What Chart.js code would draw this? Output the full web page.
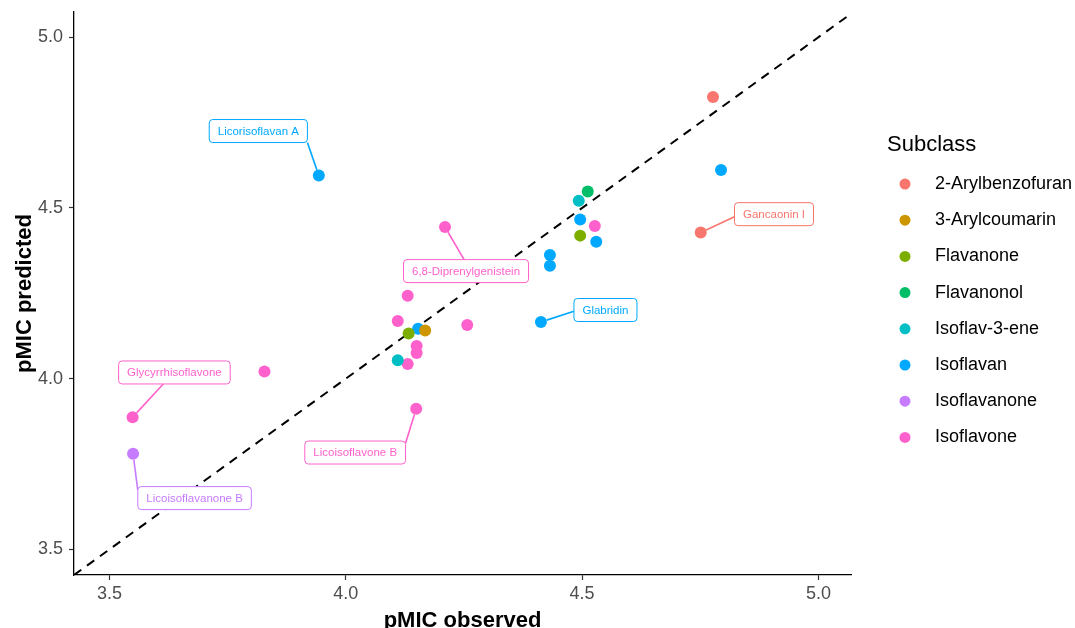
<!DOCTYPE html>
<html>
<head>
<meta charset="utf-8">
<script src="https://cdn.jsdelivr.net/npm/chart.js@4.4.1/dist/chart.umd.min.js"></script>
<style>
  html, body { margin: 0; padding: 0; background: #fff; }
  #wrap { width: 1075px; height: 628px; }
</style>
</head>
<body>
<div id="wrap"><canvas id="chart" width="1075" height="628"></canvas></div>
<script>
const FONT = '"Liberation Sans", Arial, Helvetica, sans-serif';

const subclasses = ['2-Arylbenzofuran', '3-Arylcoumarin', 'Flavanone', 'Flavanonol',
  'Isoflav-3-ene', 'Isoflavan', 'Isoflavanone', 'Isoflavone'];
const subclassColors = ['#F8766D', '#CD9600', '#7CAE00', '#00BE67',
  '#00BFC4', '#00A9FF', '#C77CFF', '#FF61CC'];

// one entry per compound
const compoundSubclass = [
  '2-Arylbenzofuran', '2-Arylbenzofuran',
  '3-Arylcoumarin',
  'Flavanone', 'Flavanone',
  'Flavanonol',
  'Isoflav-3-ene', 'Isoflav-3-ene',
  'Isoflavan', 'Isoflavan', 'Isoflavan', 'Isoflavan', 'Isoflavan', 'Isoflavan', 'Isoflavan', 'Isoflavan',
  'Isoflavanone',
  'Isoflavone', 'Isoflavone', 'Isoflavone', 'Isoflavone', 'Isoflavone', 'Isoflavone',
  'Isoflavone', 'Isoflavone', 'Isoflavone', 'Isoflavone', 'Isoflavone'
];
const pmicObserved = [
  4.777, 4.751,
  4.168,
  4.133, 4.496,
  4.512,
  4.493, 4.110,
  3.943, 4.794, 4.496, 4.530, 4.432, 4.432, 4.413, 4.153,
  3.550,
  4.210, 4.527, 4.131, 4.110, 4.257, 4.150, 4.150, 4.131, 3.828, 3.549, 4.149
];
const pmicPredicted = [
  4.825, 4.428,
  4.141,
  4.132, 4.419,
  4.548,
  4.521, 4.054,
  4.595, 4.611, 4.466, 4.401, 4.362, 4.331, 4.166, 4.146,
  3.780,
  4.444, 4.447, 4.243, 4.169, 4.157, 4.096, 4.075, 4.043, 4.021, 3.887, 3.912
];
const compoundLabel = [
  '', 'Gancaonin I',
  '',
  '', '',
  '',
  '', '',
  'Licorisoflavan A', '', '', '', '', '', 'Glabridin', '',
  'Licoisoflavanone B',
  '6,8-Diprenylgenistein', '', '', '', '', '', '', '', '', 'Glycyrrhisoflavone', 'Licoisoflavone B'
];

const tickValues = [3.5, 4.0, 4.5, 5.0];
const xLimits = [3.425, 5.069];
const yLimits = [3.425, 5.074];

// where each repelled label box sits relative to its point (px) and where the segment meets the box
const labelPlacement = [
  { name: 'Licorisoflavan A', dx: -60.5, dy: -44.5, ax: 1, ay: 1 },
  { name: '6,8-Diprenylgenistein', dx: 21, dy: 44, ax: -0.03, ay: -1 },
  { name: 'Gancaonin I', dx: 73.3, dy: -18.4, ax: -1, ay: 0.23 },
  { name: 'Glabridin', dx: 64.5, dy: -12, ax: -1, ay: 0.1 },
  { name: 'Glycyrrhisoflavone', dx: 41.8, dy: -44.8, ax: -0.2, ay: 1 },
  { name: 'Licoisoflavone B', dx: -61, dy: 43.8, ax: 1, ay: -0.8 },
  { name: 'Licoisoflavanone B', dx: 61.5, dy: 44.3, ax: -1, ay: -0.67 }
];

const datasets = subclasses.map((s, k) => ({
  type: 'scatter',
  label: s,
  data: pmicObserved
    .map((x, i) => ({ x: x, y: pmicPredicted[i], s: compoundSubclass[i] }))
    .filter(p => p.s === s),
  backgroundColor: subclassColors[k],
  borderWidth: 0,
  pointRadius: 6,
  pointHoverRadius: 6
}));

datasets.push({
  type: 'line',
  label: 'identity',
  data: [{ x: xLimits[0], y: xLimits[0] }, { x: xLimits[1], y: xLimits[1] }],
  borderColor: '#000',
  borderWidth: 2,
  borderDash: [9, 7],
  pointRadius: 0,
  fill: false
});

function roundBox(ctx, x, y, w, h, r) {
  ctx.beginPath();
  ctx.moveTo(x + r, y);
  ctx.lineTo(x + w - r, y);
  ctx.arcTo(x + w, y, x + w, y + r, r);
  ctx.lineTo(x + w, y + h - r);
  ctx.arcTo(x + w, y + h, x + w - r, y + h, r);
  ctx.lineTo(x + r, y + h);
  ctx.arcTo(x, y + h, x, y + h - r, r);
  ctx.lineTo(x, y + r);
  ctx.arcTo(x, y, x + r, y, r);
  ctx.closePath();
}

const repelLabels = {
  id: 'repelLabels',
  afterDatasetsDraw(chart) {
    const ctx = chart.ctx;
    const xs = chart.scales.x, ys = chart.scales.y;
    ctx.save();
    ctx.font = '11.5px ' + FONT;
    labelPlacement.forEach(lp => {
      const i = compoundLabel.indexOf(lp.name);
      const px = xs.getPixelForValue(pmicObserved[i]);
      const py = ys.getPixelForValue(pmicPredicted[i]);
      const col = subclassColors[subclasses.indexOf(compoundSubclass[i])];
      const w = ctx.measureText(lp.name).width + 17;
      const h = 23;
      const cx = px + lp.dx, cy = py + lp.dy;
      const ex = cx + lp.ax * w / 2, ey = cy + lp.ay * h / 2;
      const len = Math.hypot(ex - px, ey - py);
      const sx = px + (ex - px) * 6 / len, sy = py + (ey - py) * 6 / len;
      ctx.strokeStyle = col;
      ctx.lineWidth = 1.6;
      ctx.beginPath();
      ctx.moveTo(sx, sy);
      ctx.lineTo(ex, ey);
      ctx.stroke();
      roundBox(ctx, cx - w / 2, cy - h / 2, w, h, 3.5);
      ctx.fillStyle = '#fff';
      ctx.fill();
      ctx.lineWidth = 1;
      ctx.stroke();
      ctx.fillStyle = col;
      ctx.textAlign = 'center';
      ctx.textBaseline = 'middle';
      ctx.fillText(lp.name, cx, cy + 0.5);
    });
    ctx.restore();
  }
};

const subclassLegend = {
  id: 'subclassLegend',
  afterDraw(chart) {
    const ctx = chart.ctx;
    ctx.save();
    ctx.textAlign = 'left';
    ctx.textBaseline = 'middle';
    ctx.fillStyle = '#000';
    ctx.font = '22px ' + FONT;
    ctx.fillText('Subclass', 887, 144.5);
    ctx.font = '18px ' + FONT;
    subclasses.forEach((s, k) => {
      const y = 184 + k * 36.2;
      ctx.beginPath();
      ctx.arc(905, y, 5.5, 0, Math.PI * 2);
      ctx.fillStyle = subclassColors[k];
      ctx.fill();
      ctx.fillStyle = '#000';
      ctx.fillText(s, 935, y);
    });
    ctx.restore();
  }
};

function axisOptions(limits, titleText, tickPad, titlePad) {
  return {
    type: 'linear',
    min: limits[0],
    max: limits[1],
    afterBuildTicks: scale => { scale.ticks = tickValues.map(v => ({ value: v })); },
    ticks: {
      callback: v => Number(v).toFixed(1),
      color: '#4D4D4D',
      font: { family: FONT, size: 18 },
      padding: tickPad,
      autoSkip: false,
      maxRotation: 0
    },
    grid: {
      drawOnChartArea: false,
      drawTicks: true,
      tickLength: 5,
      tickColor: '#333',
      tickWidth: 1.2
    },
    border: { display: true, color: '#000', width: 1.3 },
    title: {
      display: true,
      text: titleText,
      color: '#000',
      font: { family: FONT, size: 22, weight: 'bold', lineHeight: 1 },
      padding: titlePad
    }
  };
}

const xAxis = axisOptions(xLimits, 'pMIC observed', 3, { top: 0, bottom: -4 });
xAxis.afterFit = scale => {
  scale.height = 53;
  scale.paddingLeft = 0;
  scale.paddingRight = 0;
};
const yAxis = axisOptions(yLimits, 'pMIC predicted', 6, { top: 14, bottom: 0 });
yAxis.afterFit = scale => {
  scale.width = 74;
  scale.paddingTop = 0;
  scale.paddingBottom = 0;
};

new Chart(document.getElementById('chart'), {
  data: { datasets: datasets },
  options: {
    responsive: false,
    animation: false,
    devicePixelRatio: 1,
    layout: { padding: { left: 0, top: 12, right: 224, bottom: 0 } },
    scales: { x: xAxis, y: yAxis },
    plugins: {
      legend: { display: false },
      tooltip: { enabled: false }
    }
  },
  plugins: [repelLabels, subclassLegend]
});
</script>
</body>
</html>
